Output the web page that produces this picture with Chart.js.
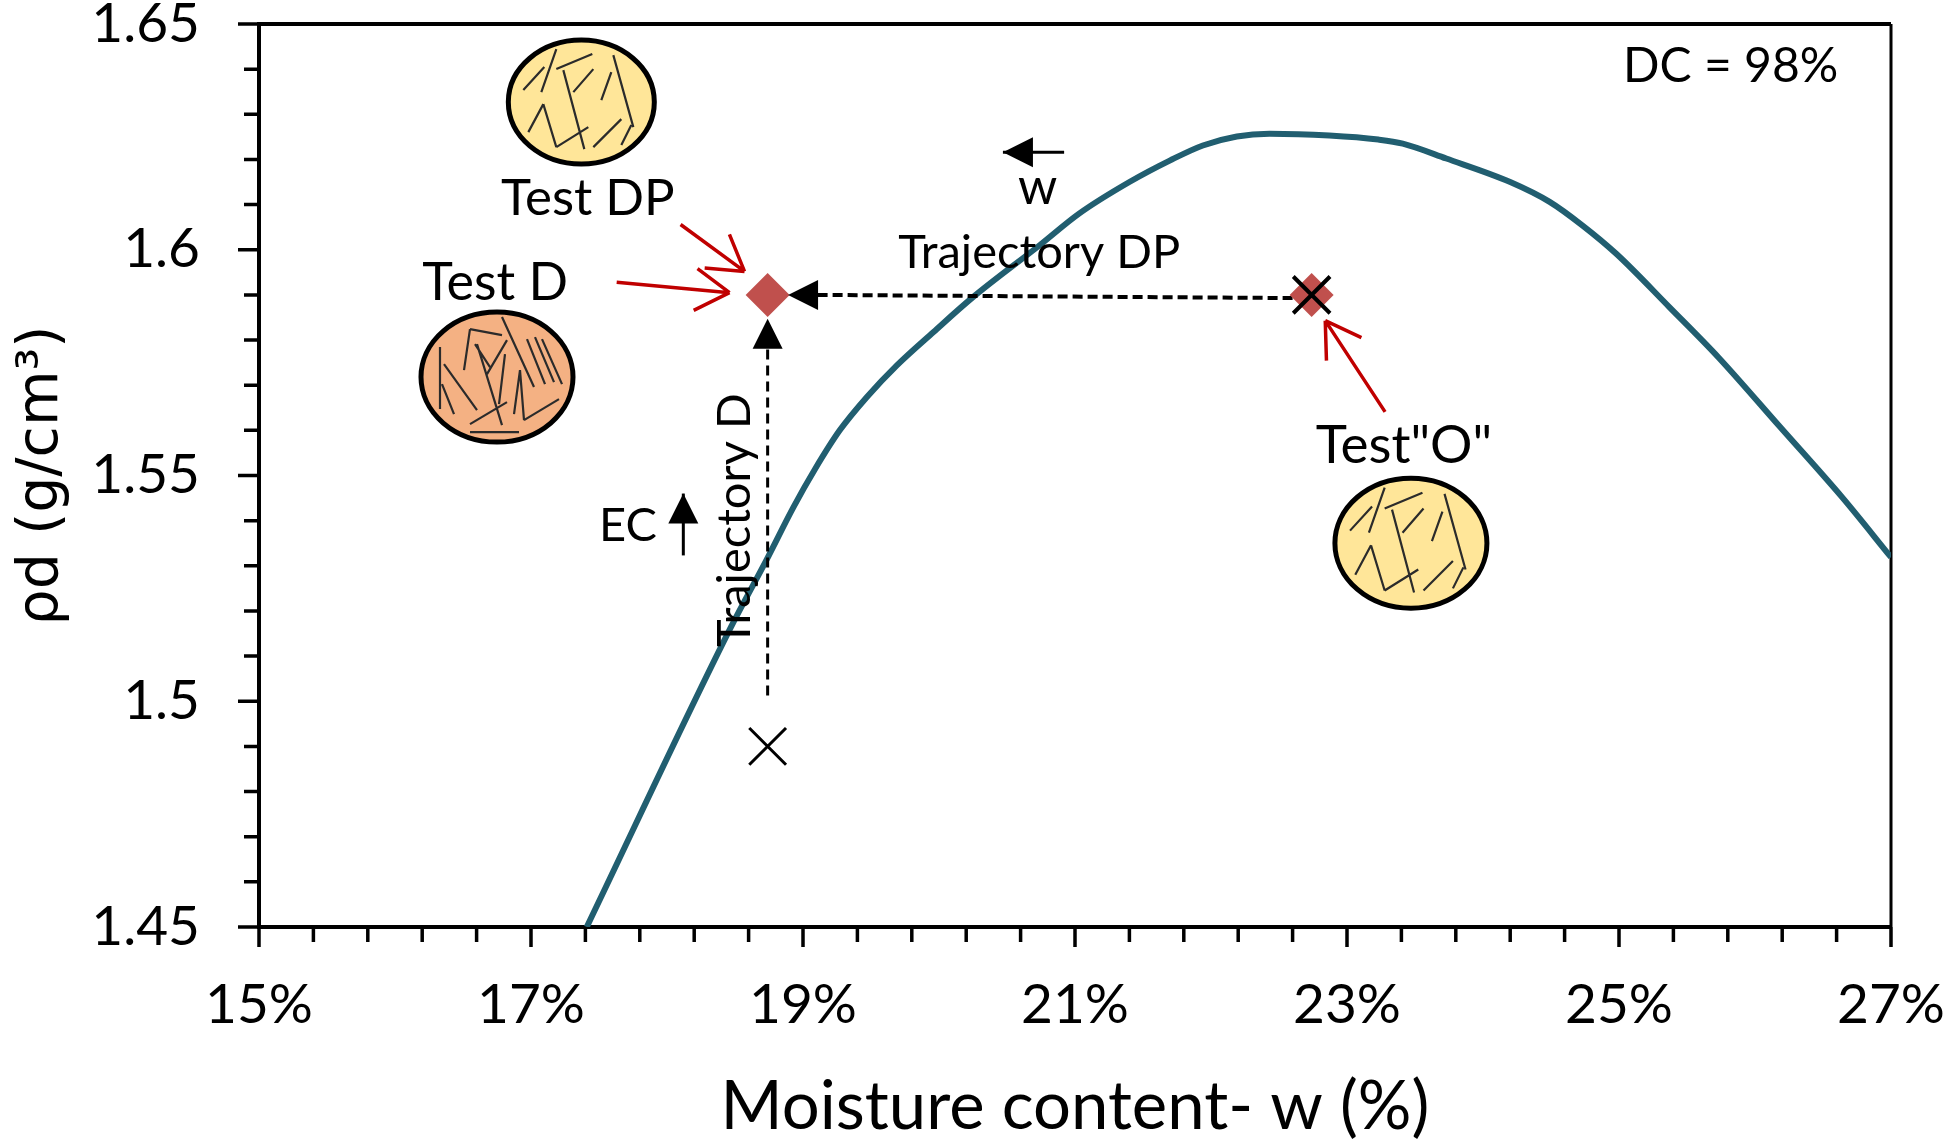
<!DOCTYPE html>
<html>
<head>
<meta charset="utf-8">
<title>Moisture content chart</title>
<script src="https://cdn.jsdelivr.net/npm/chart.js@4/dist/chart.umd.js"></script>
<style>
  html, body { margin: 0; padding: 0; background: #fff; }
  canvas { display: block; }
</style>
</head>
<body>
<canvas id="chart" width="1946" height="1142"></canvas>
<script>
// Chart values
const curveW = [17.41, 18.47, 18.73, 18.93, 19.09, 19.27, 19.47, 19.69, 19.96, 20.25, 20.74, 21.03, 21.4, 21.7, 21.94, 22.19, 22.43, 22.87, 23.23, 23.41, 23.73, 24.2, 24.49, 24.73, 24.98, 25.37, 25.73, 26.18, 26.64, 27];
const curveRho = [1.45, 1.5164, 1.5312, 1.543, 1.5515, 1.56, 1.5674, 1.5744, 1.5818, 1.5895, 1.601, 1.608, 1.615, 1.6198, 1.6231, 1.6251, 1.6257, 1.6253, 1.6244, 1.6235, 1.6202, 1.615, 1.6106, 1.6054, 1.5991, 1.5873, 1.5762, 1.5609, 1.5452, 1.5319];
const testW = [18.74, 22.74];
const testRho = [1.59, 1.59];
const crossW = [18.74, 22.74];
const crossRho = [1.49, 1.59];
const trajectoryDW = [18.74, 18.74];
const trajectoryDRho = [1.5013, 1.5782];
const trajectoryDPW = [22.6, 19.11];
const trajectoryDPRho = [1.5893, 1.59];
const xTickLabels = ['15%', '17%', '19%', '21%', '23%', '25%', '27%'];
const yTickLabels = ['1.45', '1.5', '1.55', '1.6', '1.65'];

const FONT = 'Lato, sans-serif';
const CURVE_COLOR = '#215E70';
const MARKER_COLOR = '#C0504D';
const ARROW_RED = '#C00000';

// Text notes, placed in data coordinates
const notes = [
  { text: 'DC = 98%', x: 25.03, y: 1.6371, size: 48 },
  { text: 'Test DP', x: 16.78, y: 1.6076, size: 51 },
  { text: 'Test D', x: 16.2, y: 1.5888, size: 52 },
  { text: 'Trajectory DP', x: 19.7, y: 1.5959, size: 47 },
  { text: 'w', x: 20.58, y: 1.6101, size: 50 },
  { text: 'EC', x: 17.5, y: 1.5354, size: 47 },
  { text: 'Test"O"', x: 22.77, y: 1.5527, size: 53 },
  { text: 'Trajectory D', x: 18.61, y: 1.512, size: 47, rotate: true }
];

// Open red arrows pointing at the test points
const redArrows = [
  { from: [18.1, 1.6056], to: [18.57, 1.5952] },
  { from: [17.63, 1.5928], to: [18.46, 1.5905] },
  { from: [23.28, 1.5641], to: [22.84, 1.5843] }
];

// Solid black arrows, line is optional
const blackArrows = [
  { from: [20.92, 1.6216], to: [20.47, 1.6216], line: true },
  { from: [18.12, 1.5323], to: [18.12, 1.546], line: true },
  { from: [18.74, 1.5782], to: [18.74, 1.5847] },
  { from: [19.11, 1.59], to: [18.89, 1.59] }
];

// Fibre sketches, offsets in pixels from each ellipse centre
const looseFibres = [
  [-58, -12, -37, -35], [-40, -10, -25, -53], [-25, -33, 11, -48], [-18, -32, 3, 47],
  [-8, -10, 12, -33], [20, -2, 30, -30], [32, -47, 52, 25], [-53, 30, -38, 2],
  [-38, 2, -25, 45], [-25, 45, 7, 25], [12, 45, 40, 17], [40, 43, 50, 23]
];
const denseFibres = [
  [-57, -30, -57, 32], [-53, -13, -20, 33], [-55, 7, -43, 37], [-33, -7, -27, -48],
  [-27, -48, 5, -42], [-20, -33, 5, 48], [-10, -3, 10, -37], [-22, -33, -7, -10],
  [5, -60, 37, 10], [8, -23, 2, 27], [30, -38, 48, 7], [38, -40, 57, 5],
  [45, -38, 65, 7], [23, -7, 17, 37], [23, -7, 27, 43], [27, 43, 62, 22],
  [-27, 47, 10, 25], [-27, 55, 22, 55]
];
const samples = [
  { x: 17.37, y: 1.6327, rx: 73, ry: 62, fill: '#FFE699', fibres: looseFibres, k: 1 },
  { x: 16.75, y: 1.5718, rx: 76, ry: 65, fill: '#F4B183', fibres: denseFibres, k: 1 },
  { x: 23.47, y: 1.535, rx: 76, ry: 65, fill: '#FFE699', fibres: looseFibres, k: 1.05 }
];

function toXY(data) {
  return data[0].map((x, i) => ({ x: x, y: data[1][i] }));
}

function drawHead(ctx, tip, angle, len, half) {
  ctx.save();
  ctx.translate(tip.x, tip.y);
  ctx.rotate(angle);
  ctx.beginPath();
  ctx.moveTo(0, 0);
  ctx.lineTo(-len, -half);
  ctx.lineTo(-len, half);
  ctx.closePath();
  ctx.fill();
  ctx.restore();
}

// Draws ticks, frame and all the notes on top of the library's scales
const decorations = {
  id: 'decorations',
  beforeDatasetsDraw(chart) {
    const { ctx, chartArea: a, scales: { x, y } } = chart;
    ctx.save();
    ctx.strokeStyle = '#000';
    ctx.lineWidth = 4;
    ctx.beginPath();
    ctx.moveTo(a.left, a.top);
    ctx.lineTo(a.right, a.top);
    ctx.stroke();
    ctx.lineWidth = 3;
    ctx.beginPath();
    ctx.moveTo(a.right, a.top);
    ctx.lineTo(a.right, a.bottom);
    ctx.stroke();

    ctx.lineWidth = 3.5;
    ctx.beginPath();
    x.ticks.forEach((t, i) => {
      const px = x.getPixelForTick(i);
      ctx.moveTo(px, a.bottom);
      ctx.lineTo(px, a.bottom + (i % 5 === 0 ? 20 : 15));
    });
    y.ticks.forEach((t, i) => {
      const py = y.getPixelForTick(i);
      ctx.moveTo(a.left, py);
      ctx.lineTo(a.left - (i % 5 === 0 ? 21 : 15), py);
    });
    ctx.stroke();

    samples.forEach((s) => {
      const cx = x.getPixelForValue(s.x);
      const cy = y.getPixelForValue(s.y);
      ctx.beginPath();
      ctx.ellipse(cx, cy, s.rx, s.ry, 0, 0, Math.PI * 2);
      ctx.fillStyle = s.fill;
      ctx.fill();
      ctx.lineWidth = 5;
      ctx.strokeStyle = '#000';
      ctx.stroke();
      ctx.lineWidth = 2.2;
      ctx.strokeStyle = '#2b2b2b';
      ctx.beginPath();
      s.fibres.forEach((f) => {
        ctx.moveTo(cx + f[0] * s.k, cy + f[1] * s.k);
        ctx.lineTo(cx + f[2] * s.k, cy + f[3] * s.k);
      });
      ctx.stroke();
    });
    ctx.restore();
  },
  afterDatasetsDraw(chart) {
    const { ctx, scales: { x, y } } = chart;
    const pt = (p) => ({ x: x.getPixelForValue(p[0]), y: y.getPixelForValue(p[1]) });
    ctx.save();

    ctx.fillStyle = '#000';
    ctx.textBaseline = 'alphabetic';
    ctx.textAlign = 'left';
    notes.forEach((n) => {
      const p = pt([n.x, n.y]);
      ctx.save();
      ctx.font = n.size + 'px ' + FONT;
      ctx.translate(p.x, p.y);
      if (n.rotate) ctx.rotate(-Math.PI / 2);
      ctx.fillText(n.text, 0, 0);
      ctx.restore();
    });

    // red open arrows
    ctx.strokeStyle = ARROW_RED;
    ctx.lineWidth = 3.5;
    redArrows.forEach((r) => {
      const a = pt(r.from);
      const b = pt(r.to);
      const ang = Math.atan2(b.y - a.y, b.x - a.x);
      ctx.beginPath();
      ctx.moveTo(a.x, a.y);
      ctx.lineTo(b.x, b.y);
      [-0.55, 0.55].forEach((d) => {
        ctx.moveTo(b.x, b.y);
        ctx.lineTo(b.x - 40 * Math.cos(ang + d), b.y - 40 * Math.sin(ang + d));
      });
      ctx.stroke();
    });

    // black arrows
    ctx.strokeStyle = '#000';
    ctx.lineWidth = 3;
    blackArrows.forEach((r) => {
      const a = pt(r.from);
      const b = pt(r.to);
      const ang = Math.atan2(b.y - a.y, b.x - a.x);
      if (r.line) {
        ctx.beginPath();
        ctx.moveTo(a.x, a.y);
        ctx.lineTo(b.x, b.y);
        ctx.stroke();
      }
      drawHead(ctx, b, ang, 30, 15);
    });
    ctx.restore();
  }
};

function fitBox(scale, prop, size) {
  scale[prop] = size;
  scale.paddingTop = 0;
  scale.paddingBottom = 0;
  scale.paddingLeft = 0;
  scale.paddingRight = 0;
}

// first dataset in the list ends up on top
new Chart(document.getElementById('chart').getContext('2d'), {
  type: 'scatter',
  data: {
    datasets: [
      {
        data: toXY([crossW, crossRho]),
        pointStyle: 'crossRot', pointRadius: 26,
        borderColor: '#000', pointBorderWidth: [3, 4]
      },
      {
        data: toXY([testW, testRho]),
        pointStyle: 'rectRot', pointRadius: 22,
        backgroundColor: MARKER_COLOR, borderColor: MARKER_COLOR, borderWidth: 0
      },
      {
        data: toXY([trajectoryDW, trajectoryDRho]),
        showLine: true, pointRadius: 0,
        borderColor: '#000', borderWidth: 3, borderDash: [10, 6]
      },
      {
        data: toXY([trajectoryDPW, trajectoryDPRho]),
        showLine: true, pointRadius: 0,
        borderColor: '#000', borderWidth: 4, borderDash: [10, 5]
      },
      {
        data: toXY([curveW, curveRho]),
        showLine: true, pointRadius: 0,
        borderColor: CURVE_COLOR, borderWidth: 6,
        cubicInterpolationMode: 'monotone'
      }
    ]
  },
  options: {
    responsive: false,
    animation: false,
    devicePixelRatio: 1,
    layout: { autoPadding: false, padding: { top: 24, right: 55, left: 0, bottom: 0 } },
    plugins: { legend: { display: false }, tooltip: { enabled: false } },
    scales: {
      x: {
        type: 'linear',
        min: 15,
        max: 27,
        afterFit: (s) => fitBox(s, 'height', 215),
        border: { color: '#000', width: 4 },
        grid: { drawOnChartArea: false, drawTicks: false },
        title: {
          display: true,
          text: 'Moisture content- w (%)',
          color: '#000',
          font: { family: FONT, size: 67 },
          padding: { top: 0, bottom: -6 }
        },
        ticks: {
          stepSize: 0.4,
          autoSkip: false,
          maxRotation: 0,
          color: '#000',
          padding: 45,
          font: { family: FONT, size: 55 },
          callback: (v, i) => (i % 5 === 0 ? xTickLabels[i / 5] : '')
        }
      },
      y: {
        type: 'linear',
        min: 1.45,
        max: 1.65,
        afterFit: (s) => fitBox(s, 'width', 259),
        border: { color: '#000', width: 4 },
        grid: { drawOnChartArea: false, drawTicks: false },
        title: {
          display: true,
          text: 'ρd (g/cm³)',
          color: '#000',
          font: { family: 'DejaVu Sans, sans-serif', size: 57 },
          padding: { top: 8, bottom: 0 }
        },
        ticks: {
          stepSize: 0.01,
          autoSkip: false,
          color: '#000',
          padding: 59,
          font: { family: FONT, size: 55 },
          callback: (v, i) => (i % 5 === 0 ? yTickLabels[i / 5] : '')
        }
      }
    }
  },
  plugins: [decorations]
});
</script>
</body>
</html>
